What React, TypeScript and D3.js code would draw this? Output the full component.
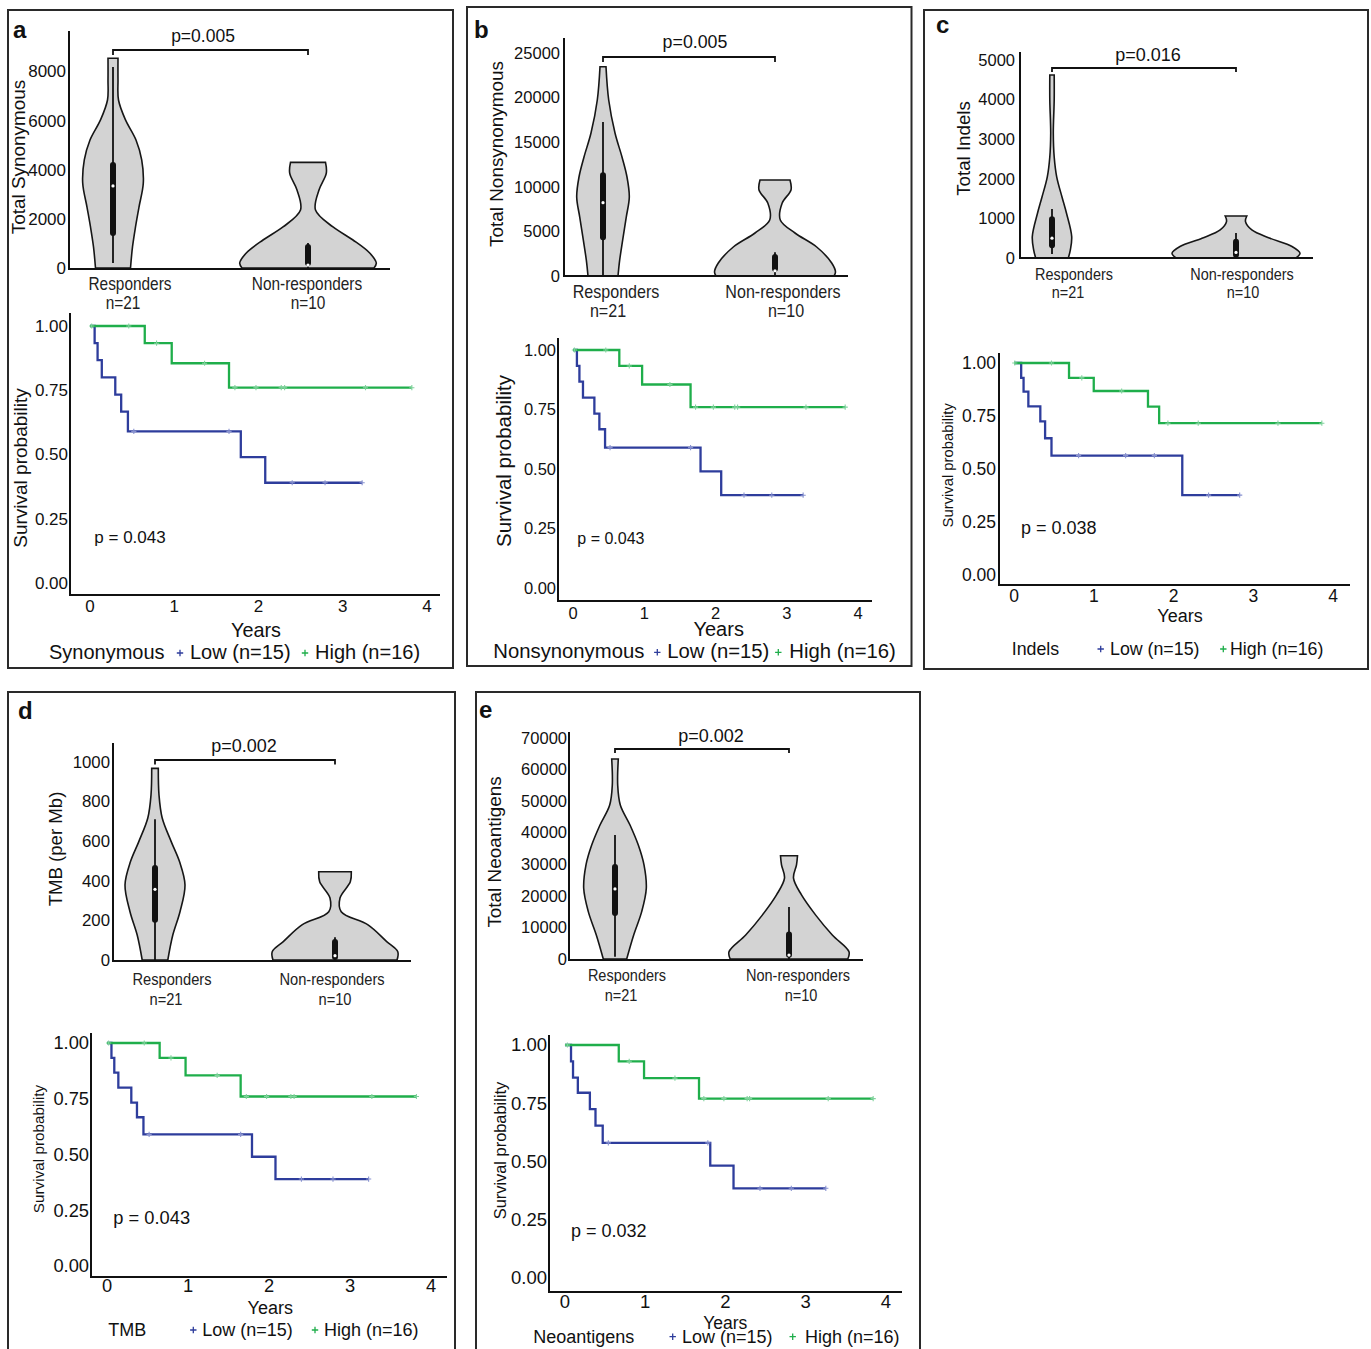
import React from "react";
import * as d3 from "d3";

const FONT = "'Liberation Sans', Arial, Helvetica, sans-serif";

// ---------------- DATA ----------------
const panelLetters = ["a", "b", "c", "d", "e"];
const groupNames = ["Responders", "Non-responders"];
const groupSizes = ["n=21", "n=10"];
const violinTitles = ["Total Synonymous", "Total Nonsynonymous", "Total Indels", "TMB (per Mb)", "Total Neoantigens"];
const violinPValues = ["p=0.005", "p=0.005", "p=0.016", "p=0.002", "p=0.002"];
const kmPValues = ["p = 0.043", "p = 0.043", "p = 0.038", "p = 0.043", "p = 0.032"];
const legendTitles = ["Synonymous", "Nonsynonymous", "Indels", "TMB", "Neoantigens"];
const legendLabels = ["Low (n=15)", "High (n=16)"];

// violin y ticks
const ticksSyn = [0, 2000, 4000, 6000, 8000];
const ticksNonsyn = [0, 5000, 10000, 15000, 20000, 25000];
const ticksIndel = [0, 1000, 2000, 3000, 4000, 5000];
const ticksTmb = [0, 200, 400, 600, 800, 1000];
const ticksNeo = [0, 10000, 20000, 30000, 40000, 50000, 60000, 70000];

// violin density profiles: [value, relative density]
const synResp = [[0, .175], [860, .195], [1670, .225], [2480, .26], [3460, .303], [4400, .287], [5210, .23], [6030, .125], [6840, .055], [7650, .05], [8540, .05]];
const synNon = [[0, .66], [200, .683], [610, .617], [1140, .45], [1670, .25], [2360, .075], [3175, .11], [3860, .183], [4300, .175]];
const nonsynResp = [[0, .15], [1800, .167], [4040, .197], [6620, .233], [8860, .263], [11100, .24], [13340, .19], [16030, .12], [19730, .057], [23460, .03]];
const nonsynNon = [[0, .59], [450, .605], [1460, .567], [3250, .417], [4820, .2], [6280, .053], [8180, .072], [9640, .16], [10760, .15]];
const indelResp = [[0, .163], [200, .183], [540, .197], [1130, .145], [1540, .1], [2050, .047], [2550, .022], [3150, .013], [3990, .022], [4620, .022]];
const indelNon = [[0, .6], [120, .64], [290, .56], [500, .34], [710, .158], [920, .095], [1060, .108]];
const tmbResp = [[0, .128], [126, .178], [244, .25], [379, .3], [497, .245], [598, .162], [717, .072], [833, .04], [968, .033]];
const tmbNon = [[0, .62], [42, .628], [93, .517], [177, .33], [244, .062], [313, .05], [395, .153], [446, .163]];
const neoResp = [[0, .117], [7600, .187], [15000, .267], [22400, .313], [29800, .29], [36100, .233], [42450, .15], [48800, .053], [55100, .027], [63350, .033]];
const neoNon = [[0, .588], [2300, .6], [7600, .433], [13900, .267], [20300, .125], [25600, .045], [29800, .075], [32700, .085]];

// box stats: [whiskerLow, q1, median, q3, whiskerHigh]
const synRespBox = [200, 1340, 3340, 4275, 8180];
const synNonBox = [0, 120, 120, 940, 1020];
const nonsynRespBox = [0, 4110, 8220, 11510, 17260];
const nonsynNonBox = [0, 590, 590, 2350, 2650];
const indelRespBox = [100, 270, 500, 1030, 1240];
const indelNonBox = [0, 30, 140, 460, 630];
const tmbRespBox = [0, 193, 357, 475, 711];
const tmbNonBox = [0, 5, 22, 101, 115];
const neoRespBox = [750, 13900, 22200, 29800, 39300];
const neoNonBox = [0, 700, 1250, 8400, 16500];

// Kaplan-Meier
const kmTicksX = [0, 1, 2, 3, 4];
const kmTicksY = [0, 0.25, 0.5, 0.75, 1];

const lowTimesA = [0, 0.055, 0.09, 0.14, 0.3, 0.37, 0.45, 1.79, 2.08];
const lowSurvA = [1, 0.933, 0.867, 0.8, 0.733, 0.667, 0.59, 0.49, 0.39];
const lowEndA = 3.23;
const lowCensorA = [0.52, 1.65, 2.4, 2.79, 3.23];
const highTimesA = [0, 0.65, 0.97, 1.65];
const highSurvA = [1, 0.933, 0.855, 0.76];
const highEndA = 3.82;
const highCensorA = [0.02, 0.46, 0.79, 1.36, 1.72, 1.97, 2.27, 2.31, 3.27, 3.82];

const lowTimesC = [0, 0.09, 0.12, 0.18, 0.33, 0.39, 0.47, 2.11];
const lowSurvC = [1, 0.93, 0.865, 0.795, 0.725, 0.645, 0.563, 0.377];
const lowEndC = 2.83;
const lowCensorC = [0.81, 1.4, 1.76, 2.44, 2.83];
const highTimesC = [0, 0.69, 1.0, 1.68, 1.82];
const highSurvC = [1, 0.93, 0.868, 0.794, 0.716];
const highEndC = 3.86;
const highCensorC = [0.01, 0.47, 0.85, 1.35, 1.93, 2.31, 3.31, 3.86];

const lowTimesE = [0, 0.075, 0.1, 0.16, 0.31, 0.38, 0.47, 1.81, 2.1];
const lowSurvE = [1, 0.93, 0.86, 0.795, 0.725, 0.654, 0.58, 0.482, 0.385];
const lowEndE = 3.25;
const lowCensorE = [0.54, 1.78, 2.43, 2.82, 3.25];
const highTimesE = [0, 0.67, 0.985, 1.67];
const highSurvE = [1, 0.93, 0.858, 0.77];
const highEndE = 3.84;
const highCensorE = [0.03, 0.8, 1.37, 1.73, 1.98, 2.27, 2.3, 3.28, 3.84];

// ---------------- STYLE / LAYOUT ----------------
const kmColors = ["#2e3d9c", "#1fae4b"];
const kmLight = ["#8791d0", "#80d39d"];

const layouts = [
  {
    frame: [8, 10, 453, 668], letter: { x: 13, y: 38 },
    v: {
      yDomain: [0, 8000], yRange: [268, 71.5], axisTop: 31, axisX: 69, axisRight: 390, axisY: 269,
      centers: [113, 308], tickX: 66, tickFont: 17, title: { cx: 18.5, cy: 157, size: 18.9 },
      bracket: { y: 50, drop: 5, textX: 203, textY: 41.5, size: 17.5 },
      cat: { names: [[130, 290], [307, 290]], ns: [[123, 309], [308, 309]], size: 17.5, scale: 0.88 },
    },
    k: {
      xRange: [90, 427], yRange: [583, 326], axisX: 70, axisTop: 313, axisY: 595, axisRight: 440,
      tickFont: 17, yTickX: 68, xTickY: 612, years: { x: 256, y: 637, size: 19.8 },
      p: { x: 94.3, y: 542.7, size: 17 }, title: { cx: 20, cy: 468, size: 19 },
      legend: { y: 659, size: 20, titleX: 49, plus: [180, 305], labelX: [190, 315] },
    },
  },
  {
    frame: [467, 7, 911.5, 666], letter: { x: 474, y: 38 },
    v: {
      yDomain: [0, 25000], yRange: [276, 53], axisTop: 38, axisX: 564, axisRight: 848, axisY: 276,
      centers: [603, 775], tickX: 560, tickFont: 16.5, title: { cx: 496.5, cy: 154, size: 18.9 },
      bracket: { y: 57, drop: 5, textX: 695, textY: 48, size: 17.8 },
      cat: { names: [[616, 298], [783, 298]], ns: [[608, 317], [786, 317]], size: 17.5, scale: 0.92 },
    },
    k: {
      xRange: [573, 858], yRange: [588, 350], axisX: 558, axisTop: 338, axisY: 601, axisRight: 872,
      tickFont: 16.5, yTickX: 556, xTickY: 619, years: { x: 718.7, y: 636, size: 20 },
      p: { x: 577.3, y: 544.3, size: 16 }, title: { cx: 504, cy: 461, size: 20.5 },
      legend: { y: 658.3, size: 20.3, titleX: 493.3, plus: [657.3, 778.3], labelX: [667.3, 789.3] },
    },
  },
  {
    frame: [924, 10, 1368, 669], letter: { x: 936, y: 33 },
    v: {
      yDomain: [0, 5000], yRange: [258, 60], axisTop: 52, axisX: 1020, axisRight: 1313, axisY: 258,
      centers: [1052, 1236], tickX: 1015, tickFont: 16.5, title: { cx: 963.5, cy: 148.5, size: 18.7 },
      bracket: { y: 68, drop: 4, textX: 1148, textY: 61, size: 18 },
      cat: { names: [[1074, 280], [1242, 280]], ns: [[1068, 298], [1243, 298]], size: 17, scale: 0.85 },
    },
    k: {
      xRange: [1014, 1333], yRange: [575, 363], axisX: 999, axisTop: 353, axisY: 585, axisRight: 1350,
      tickFont: 17.5, yTickX: 996, xTickY: 601.5, years: { x: 1180, y: 621.7, size: 18 },
      p: { x: 1021, y: 534.3, size: 18 }, title: { cx: 947.5, cy: 465.3, size: 14.8 },
      legend: { y: 655, size: 17.8, titleX: 1011.7, plus: [1100.7, 1223.3], labelX: [1110, 1230] },
    },
  },
  {
    frame: [8, 692, 455, 1362], letter: { x: 18, y: 719 },
    v: {
      yDomain: [0, 1000], yRange: [960, 762], axisTop: 743, axisX: 113, axisRight: 411, axisY: 961,
      centers: [155, 335], tickX: 110, tickFont: 16.8, title: { cx: 55, cy: 849, size: 18.6 },
      bracket: { y: 760, drop: 4.5, textX: 244, textY: 752, size: 18 },
      cat: { names: [[172, 985], [332, 985]], ns: [[166, 1005], [335, 1005]], size: 16.5, scale: 0.89 },
    },
    k: {
      xRange: [107, 431], yRange: [1266, 1043], axisX: 91, axisTop: 1033, axisY: 1277, axisRight: 447,
      tickFont: 18.3, yTickX: 89, xTickY: 1291.5, years: { x: 270.3, y: 1314, size: 18 },
      p: { x: 113.3, y: 1224.3, size: 18.3 }, title: { cx: 39, cy: 1149, size: 15.3 },
      legend: { y: 1336, size: 18, titleX: 108.3, plus: [193.3, 315], labelX: [202.3, 324] },
    },
  },
  {
    frame: [476, 692, 920, 1362], letter: { x: 479, y: 718 },
    v: {
      yDomain: [0, 70000], yRange: [959, 738], axisTop: 732, axisX: 569, axisRight: 863, axisY: 960,
      centers: [615, 789], tickX: 567, tickFont: 16.5, title: { cx: 494.5, cy: 852, size: 18.9 },
      bracket: { y: 749, drop: 4, textX: 711, textY: 742, size: 18 },
      cat: { names: [[627, 981], [798, 981]], ns: [[621, 1001], [801, 1001]], size: 16.5, scale: 0.88 },
    },
    k: {
      xRange: [565, 886], yRange: [1278, 1045], axisX: 549, axisTop: 1035, axisY: 1292, axisRight: 902,
      tickFont: 18.5, yTickX: 547, xTickY: 1308, years: { x: 725.3, y: 1329, size: 17.5 },
      p: { x: 571, y: 1236.7, size: 18 }, title: { cx: 500, cy: 1150.5, size: 16.4 },
      legend: { y: 1342.7, size: 18, titleX: 533.3, plus: [672.7, 792.7], labelX: [682, 805] },
    },
  },
];

const violinData = [
  { profiles: [synResp, synNon], boxes: [synRespBox, synNonBox], ticks: ticksSyn },
  { profiles: [nonsynResp, nonsynNon], boxes: [nonsynRespBox, nonsynNonBox], ticks: ticksNonsyn },
  { profiles: [indelResp, indelNon], boxes: [indelRespBox, indelNonBox], ticks: ticksIndel },
  { profiles: [tmbResp, tmbNon], boxes: [tmbRespBox, tmbNonBox], ticks: ticksTmb },
  { profiles: [neoResp, neoNon], boxes: [neoRespBox, neoNonBox], ticks: ticksNeo },
];

const curvesA = [
  { times: lowTimesA, surv: lowSurvA, end: lowEndA, censor: lowCensorA },
  { times: highTimesA, surv: highSurvA, end: highEndA, censor: highCensorA },
];
const curvesC = [
  { times: lowTimesC, surv: lowSurvC, end: lowEndC, censor: lowCensorC },
  { times: highTimesC, surv: highSurvC, end: highEndC, censor: highCensorC },
];
const curvesE = [
  { times: lowTimesE, surv: lowSurvE, end: lowEndE, censor: lowCensorE },
  { times: highTimesE, surv: highSurvE, end: highEndE, censor: highCensorE },
];
const kmData = [curvesA, curvesA, curvesC, curvesA, curvesE];

// ---------------- COMPONENTS ----------------
function fmtKm(v: number) {
  return d3.format(".2f")(v);
}

function Violin({ L, data, title, pLabel }: any) {
  const y = d3.scaleLinear().domain(L.yDomain).range(L.yRange);
  const x = d3.scalePoint<string>().domain(groupNames).range(L.centers);
  const w = d3.scaleLinear().domain([0, 1]).range([0, 100]);
  const c0 = x(groupNames[0])!;
  const c1 = x(groupNames[1])!;
  return (
    <g>
      {data.profiles.map((prof: number[][], i: number) => {
        const cx = x(groupNames[i])!;
        const area = d3
          .area<number[]>()
          .y((d) => y(d[0]))
          .x0((d) => cx - w(d[1]))
          .x1((d) => cx + w(d[1]))
          .curve(d3.curveCatmullRom.alpha(0.5));
        const b = data.boxes[i];
        return (
          <g key={i}>
            <path d={area(prof) || ""} fill="#d3d3d3" stroke="#161616" strokeWidth={1.6} />
            <line x1={cx} x2={cx} y1={y(b[0])} y2={y(b[4])} stroke="#111" strokeWidth={1.8} />
            <line x1={cx} x2={cx} y1={y(b[1]) - 2} y2={y(b[3]) + 2} stroke="#111" strokeWidth={6} strokeLinecap="round" />
            <circle cx={cx} cy={y(b[2])} r={1.6} fill="#fff" />
          </g>
        );
      })}
      <line x1={L.axisX} x2={L.axisX} y1={L.axisTop} y2={L.axisY + 1} stroke="#111" strokeWidth={2} />
      <line x1={L.axisX - 1} x2={L.axisRight} y1={L.axisY} y2={L.axisY} stroke="#111" strokeWidth={2} />
      {data.ticks.map((t: number) => (
        <text key={t} x={L.tickX} y={y(t)} dy="0.35em" textAnchor="end" fontSize={L.tickFont} fill="#111">
          {String(t)}
        </text>
      ))}
      <text
        transform={`translate(${L.title.cx},${L.title.cy}) rotate(-90)`}
        dy="0.35em"
        textAnchor="middle"
        fontSize={L.title.size}
        fill="#111"
      >
        {title}
      </text>
      <path
        d={`M${c0},${L.bracket.y + L.bracket.drop}V${L.bracket.y}H${c1}V${L.bracket.y + L.bracket.drop}`}
        fill="none"
        stroke="#111"
        strokeWidth={1.8}
      />
      <text x={L.bracket.textX} y={L.bracket.textY} textAnchor="middle" fontSize={L.bracket.size} fill="#111">
        {pLabel}
      </text>
      {groupNames.map((g, i) => (
        <g key={g}>
          <text
            transform={`translate(${L.cat.names[i][0]},${L.cat.names[i][1]}) scale(${L.cat.scale},1)`}
            textAnchor="middle"
            fontSize={L.cat.size}
            fill="#222"
          >
            {g}
          </text>
          <text
            transform={`translate(${L.cat.ns[i][0]},${L.cat.ns[i][1]}) scale(${L.cat.scale},1)`}
            textAnchor="middle"
            fontSize={L.cat.size}
            fill="#222"
          >
            {groupSizes[i]}
          </text>
        </g>
      ))}
    </g>
  );
}

function Plus({ x, y, s, color, w }: any) {
  return <path d={`M${x - s},${y}H${x + s}M${x},${y - s}V${y + s}`} stroke={color} strokeWidth={w} fill="none" />;
}

function KM({ L, curves, pLabel, legendTitle }: any) {
  const x = d3.scaleLinear().domain([0, 4]).range(L.xRange);
  const y = d3.scaleLinear().domain([0, 1]).range(L.yRange);
  const line = d3
    .line<number[]>()
    .x((d) => x(d[0]))
    .y((d) => y(d[1]))
    .curve(d3.curveStepAfter);
  return (
    <g>
      {curves.map((c: any, i: number) => {
        const pts = c.times.map((t: number, j: number) => [t, c.surv[j]]);
        pts.push([c.end, c.surv[c.surv.length - 1]]);
        const survAt = (t: number) => {
          let s = 1;
          c.times.forEach((tt: number, j: number) => {
            if (tt <= t) s = c.surv[j];
          });
          return s;
        };
        return (
          <g key={i}>
            <path d={line(pts) || ""} fill="none" stroke={kmColors[i]} strokeWidth={2.3} />
            {c.censor.map((t: number, j: number) => (
              <Plus key={j} x={x(t)} y={y(survAt(t))} s={2.6} color={kmLight[i]} w={1.1} />
            ))}
          </g>
        );
      })}
      <line x1={L.axisX} x2={L.axisX} y1={L.axisTop} y2={L.axisY + 1} stroke="#111" strokeWidth={2} />
      <line x1={L.axisX - 1} x2={L.axisRight} y1={L.axisY} y2={L.axisY} stroke="#111" strokeWidth={2} />
      {kmTicksY.map((t) => (
        <text key={t} x={L.yTickX} y={y(t)} dy="0.35em" textAnchor="end" fontSize={L.tickFont} fill="#111">
          {fmtKm(t)}
        </text>
      ))}
      {kmTicksX.map((t) => (
        <text key={t} x={x(t)} y={L.xTickY} textAnchor="middle" fontSize={L.tickFont} fill="#111">
          {String(t)}
        </text>
      ))}
      <text x={L.years.x} y={L.years.y} textAnchor="middle" fontSize={L.years.size} fill="#111">
        Years
      </text>
      <text x={L.p.x} y={L.p.y} fontSize={L.p.size} fill="#111">
        {pLabel}
      </text>
      <text
        transform={`translate(${L.title.cx},${L.title.cy}) rotate(-90)`}
        dy="0.35em"
        textAnchor="middle"
        fontSize={L.title.size}
        fill="#111"
      >
        Survival probability
      </text>
      <text x={L.legend.titleX} y={L.legend.y} fontSize={L.legend.size} fill="#111">
        {legendTitle}
      </text>
      {legendLabels.map((lab, i) => (
        <g key={lab}>
          <Plus x={L.legend.plus[i]} y={L.legend.y - 6} s={3.2} color={kmColors[i]} w={1.3} />
          <text x={L.legend.labelX[i]} y={L.legend.y} fontSize={L.legend.size} fill="#111">
            {lab}
          </text>
        </g>
      ))}
    </g>
  );
}

export default function App() {
  return (
    <svg
      width={1371}
      height={1349}
      viewBox="0 0 1371 1349"
      style={{ position: "absolute", left: 0, top: 0, background: "#fff", fontFamily: FONT }}
    >
      <rect x={0} y={0} width={1371} height={1349} fill="#fff" />
      {layouts.map((L, i) => (
        <g key={i}>
          <rect
            x={L.frame[0]}
            y={L.frame[1]}
            width={L.frame[2] - L.frame[0]}
            height={L.frame[3] - L.frame[1]}
            fill="none"
            stroke="#2a2a2a"
            strokeWidth={2}
          />
          <text x={L.letter.x} y={L.letter.y} fontSize={24} fontWeight="bold" fill="#111">
            {panelLetters[i]}
          </text>
          <Violin L={L.v} data={violinData[i]} title={violinTitles[i]} pLabel={violinPValues[i]} />
          <KM L={L.k} curves={kmData[i]} pLabel={kmPValues[i]} legendTitle={legendTitles[i]} />
        </g>
      ))}
    </svg>
  );
}
